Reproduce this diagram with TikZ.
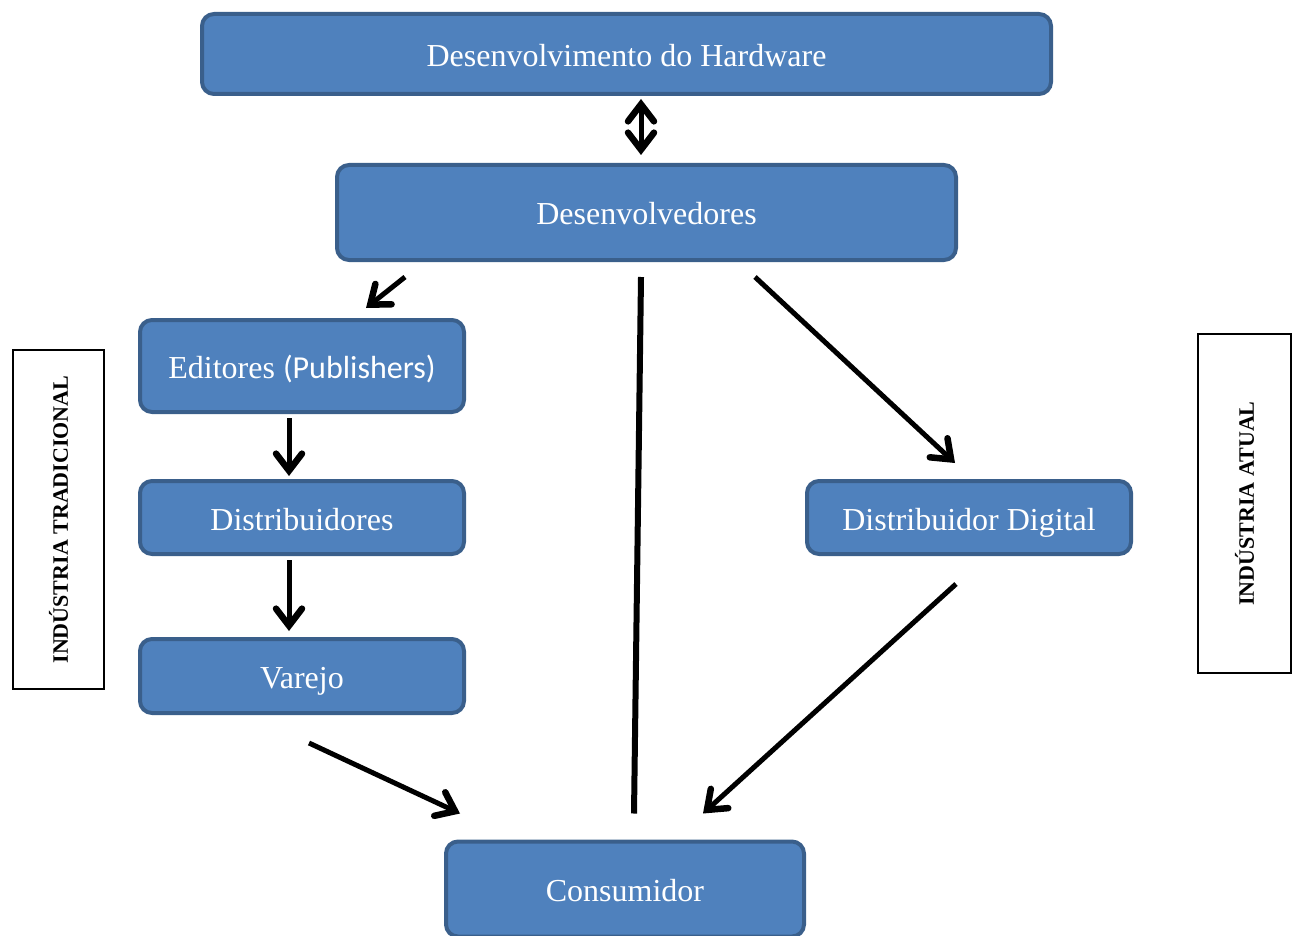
\documentclass[tikz,border=0pt]{standalone}
\usepackage{fontspec}
\setmainfont{Liberation Serif}
\newfontfamily\calibrifont{Carlito}
\usetikzlibrary{arrows.meta,calc}
\definecolor{boxfill}{HTML}{4F81BD}
\definecolor{boxedge}{HTML}{3A5F8B}

\begin{document}
\begin{tikzpicture}[x=1pt,y=-1pt,
  blk/.style={draw=boxedge, fill=boxfill, line width=4pt, rounded corners=12pt,
    text=white, inner sep=0pt, text height=31pt, text depth=6pt,
    font=\fontsize{32}{36}\selectfont},
  sidebox/.style={draw=black, line width=2pt, fill=white, rotate=90, inner sep=0pt,
    font=\bfseries\fontsize{22}{26}\selectfont},
  tipv/.tip={Straight Barb[length=17pt,width=26pt,line width=6.5pt,line cap=round,line join=miter]},
  arr/.style={line width=5pt, -tipv},
  dblarr/.style={line width=5pt, tipv-tipv},
  plain/.style={line width=6pt}
]
\useasboundingbox (0,0) rectangle (1293,936);
\clip (0,0) rectangle (1293,936);

% boxes of the value chain
\node[blk, minimum width=849, minimum height=80] (hw) at (626.5,54) {Desenvolvimento do Hardware};
\node[blk, minimum width=619, minimum height=95] (dev) at (646.5,212.5) {Desenvolvedores};
\node[blk, minimum width=324, minimum height=92] (edit) at (302,366) {Editores {\calibrifont(Publishers)}};
\node[blk, minimum width=324, minimum height=73] (distr) at (302,517.5) {Distribuidores};
\node[blk, minimum width=324, minimum height=74] (varejo) at (302,676) {Varejo};
\node[blk, minimum width=324, minimum height=73] (dd) at (969,517.5) {Distribuidor Digital};
\node[blk, minimum width=358, minimum height=95] (cons) at (625,889) {Consumidor};

% side labels
\node[sidebox, minimum width=339, minimum height=91] (trad) at (58.5,519.5) {INDÚSTRIA TRADICIONAL};
\node[sidebox, minimum width=339, minimum height=93] (atual) at (1244.5,503.5) {INDÚSTRIA ATUAL};

% connectors
\draw[dblarr] ($(hw.south)+(14.5,3)$) -- ($(dev.north)+(-5.5,-8)$);
\draw[arr] ($(dev.south)+(-241.5,15)$) -- ($(edit.north)+(64,-10)$);
\draw[plain] ($(dev.south)+(-5.5,15)$) -- ($(cons.north)+(9,-26)$);
\draw[arr] ($(dev.south)+(108.5,15)$) -- ($(dd.north)+(-14,-16)$);
\draw[arr] ($(edit.south)+(-13,4)$) -- ($(distr.north)+(-13,-3)$);
\draw[arr] ($(distr.south)+(-13,4)$) -- ($(varejo.north)+(-13,-6)$);
\draw[arr] ($(varejo.south)+(7,28)$) -- ($(cons.north)+(-165,-26)$);
\draw[arr] ($(dd.south)+(-13,28)$) -- ($(cons.north)+(78,-26)$);
\end{tikzpicture}
\end{document}
